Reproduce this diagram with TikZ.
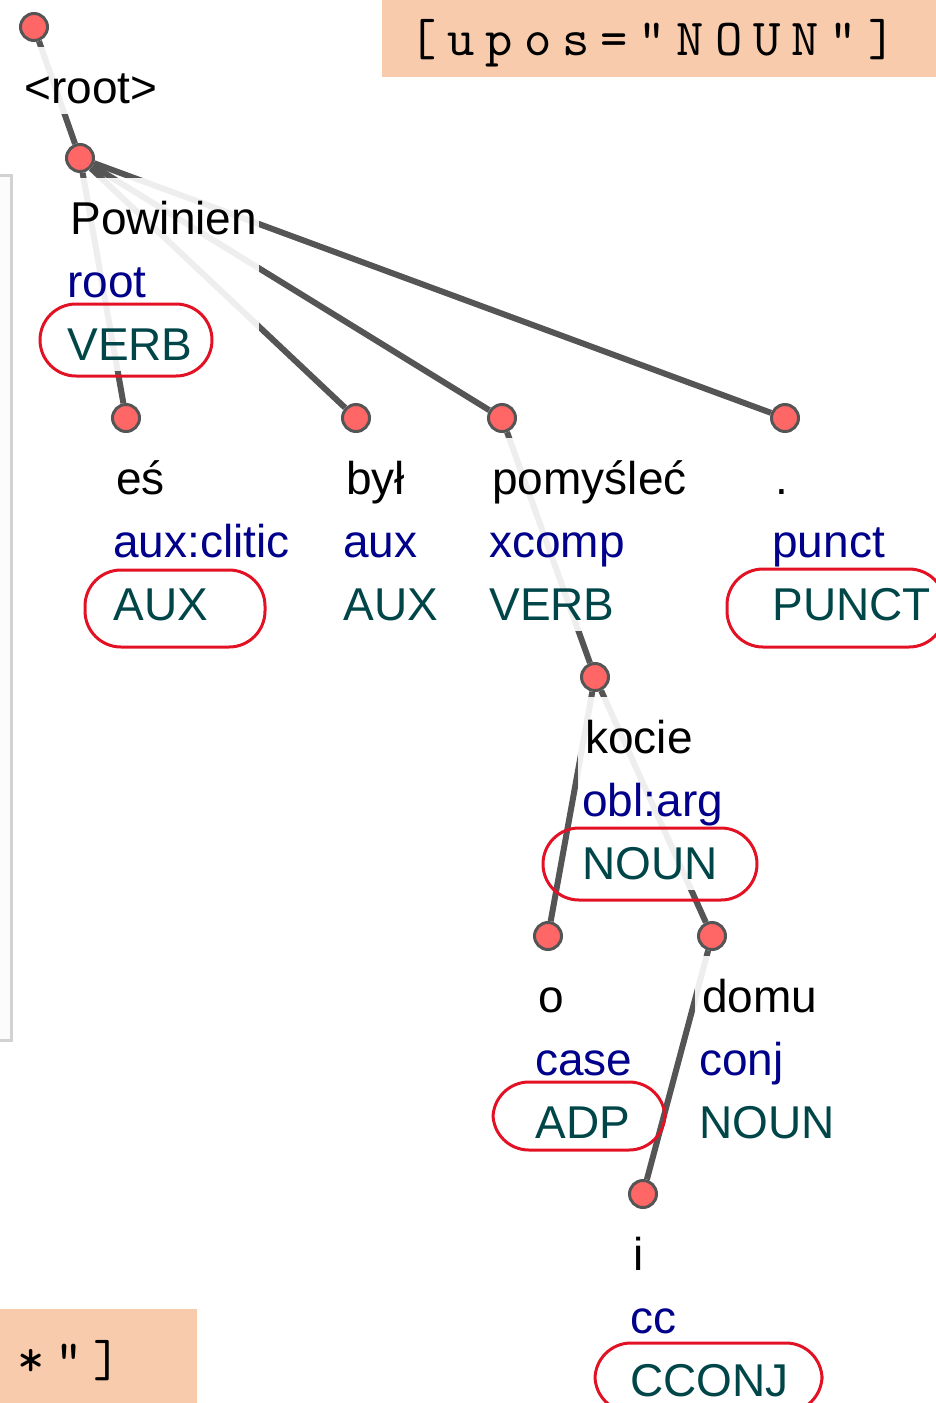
\documentclass[tikz,border=0pt]{standalone}
\usepackage{fontspec}
\newfontfamily\tokfamily{Liberation Sans}
\newfontfamily\querymono{lmmono10-regular.otf}[LetterSpace=21]
\usetikzlibrary{fit, positioning}
\definecolor{edgegray}{RGB}{85,85,85}
\definecolor{dotred}{RGB}{255,102,102}
\definecolor{relblue}{RGB}{0,0,139}
\definecolor{posteal}{RGB}{0,70,72}
\definecolor{peach}{RGB}{247,203,172}
\definecolor{penred}{RGB}{226,18,36}
\pgfdeclarelayer{edges}
\pgfdeclarelayer{boxes}
\pgfsetlayers{edges,boxes,main}
\newcommand\tokfont{\tokfamily\fontsize{23}{28}\selectfont}
\newcommand\queryfont{\querymono\fontsize{26}{26}\selectfont}
\tikzset{
	tokdot/.style={circle, draw=edgegray, line width=1.5pt, fill=dotred, minimum size=13.5pt, inner sep=0pt},
	dep/.style={draw=edgegray, line width=3pt},
	word/.style={anchor=base west, inner sep=0pt, text depth=5.5pt, font=\tokfont, text=black},
	rel/.style={word, text=relblue},
	upos/.style={word, text=posteal},
	halo/.style={fill=white, fill opacity=0.9, inner xsep=1pt, inner ysep=0pt},
	redpen/.style={draw=penred, line width=1.5pt, rounded corners=18pt},
	query/.style={anchor=base west, inner sep=0pt, font=\queryfont},
	sidebar/.style={draw=gray!35, line width=1.5pt, fill=gray!2}
}

\begin{document}
\begin{tikzpicture}[x=0.5pt, y=-0.5pt]
	\useasboundingbox (0,0) rectangle (936,1403);
	
	% side panel
	\draw[sidebar] (-10,175) rectangle (11,1040);
	
	% Tokens
	\node[tokdot] (root) at (34,27) {};
	\foreach \n/\x/\y in {pw/80/158, es/126/418, byl/356/418, pom/502/418, pt/785/418,
		kocie/595/677, o/548/936, domu/712/936, i/643/1194}
	\node[tokdot] (\n) at (\x,\y) {};
	
	% Arcs
	\begin{pgfonlayer}{edges}
		\foreach \h/\d in {root/pw, pw/es, pw/byl, pw/pom, pw/pt, pom/kocie, kocie/o, kocie/domu, domu/i}
		\draw[dep] (\h) -- (\d);
	\end{pgfonlayer}
	
	% Labels
	\node[word] (root-w) at (24,103) {\textless root\textgreater};
	\coordinate (root-t) at (19,47);
	\begin{pgfonlayer}{boxes}
		\node[halo, fit=(root-t)(root-w)] (root-box) {};
	\end{pgfonlayer}
	
	\foreach \n/\x/\y/\w/\r/\u in {pw/80/158/Powinien/root/VERB, es/126/418/eś/aux:clitic/AUX,
		byl/356/418/był/aux/AUX, pom/502/418/pomyśleć/xcomp/VERB, pt/785/418/./punct/PUNCT,
		kocie/595/677/kocie/obl:arg/NOUN, o/548/936/o/case/ADP, domu/712/936/domu/conj/NOUN,
		i/643/1194/i/cc/CCONJ}{
		\node[word] (\n-w) at (\x-10,\y+76) {\w};
		\node[rel] (\n-r) at (\x-13,\y+139) {\r};
		\node[upos] (\n-u) at (\x-13,\y+202) {\u};
		\coordinate (\n-t) at (\x-15,\y+20);
		\begin{pgfonlayer}{boxes}
			\node[halo, fit=(\n-t)(\n-w)(\n-r)(\n-u)] (\n-box) {};
		\end{pgfonlayer}
	}
	
	% Marks by hand
	\draw[redpen] (40,304) rectangle (212,376);
	\draw[redpen] (85,570) rectangle (265,647);
	\draw[redpen] (727,569) rectangle (945,647);
	\draw[redpen] (543,828) rectangle (757,900);
	\draw[redpen] (493,1082) rectangle (665,1150);
	\draw[redpen] (595,1343) rectangle (822,1412);
	
	% Query
	\fill[peach] (382,0) rectangle (936,77);
	\node[query] (q-top) at (409,55) {{[}upos="NOUN"{]}};
	\fill[peach] (0,1309) rectangle (197,1403);
	\node[query] (q-bot) at (17,1376) {*"{]}};
\end{tikzpicture}
\end{document}
